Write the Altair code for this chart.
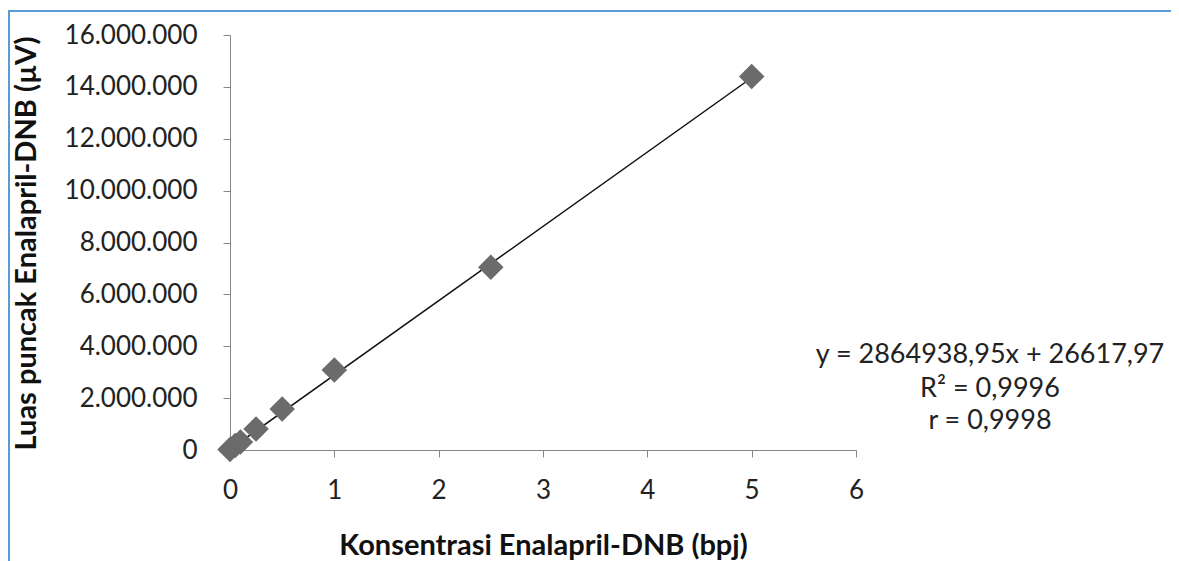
import altair as alt
import pandas as pd

# Data
konsentrasi = [0.0, 0.05, 0.1, 0.25, 0.5, 1.0, 2.5, 5.0]
luas = [20000, 170000, 310000, 810000, 1580000, 3080000, 7050000, 14400000]

trend_x = [0.0, 5.0]
trend_y = [26617.97, 14351312.72]

eq_lines = ["y = 2864938,95x + 26617,97", "R² = 0,9996", "r = 0,9998"]

y_ticks = [0, 2000000, 4000000, 6000000, 8000000, 10000000, 12000000, 14000000, 16000000]
x_ticks = [0, 1, 2, 3, 4, 5, 6]

pts = pd.DataFrame({"x": konsentrasi, "y": luas})
trend = pd.DataFrame({"x": trend_x, "y": trend_y})

FONT = "Lato"
GRAY = "#868686"

x_scale = alt.Scale(domain=[0, 6], nice=False, zero=False)
y_scale = alt.Scale(domain=[0, 16000000], nice=False)

x_axis = alt.Axis(
    values=x_ticks, format="d", title="Konsentrasi Enalapril-DNB (bpj)", grid=False,
    labelFlush=False, labelOverlap=False,
    domainColor=GRAY, tickColor=GRAY, tickSize=7, labelPadding=20,
    labelFont=FONT, labelFontSize=26, labelColor="#222222",
    titleFont=FONT, titleFontSize=29, titleFontWeight="bold", titleColor="#111111",
    titleX=313, titleY=95, titleAnchor="middle", titleBaseline="middle",
)
y_axis = alt.Axis(
    values=y_ticks, title="Luas puncak Enalapril-DNB (µV)", grid=False,
    labelFlush=False, labelOverlap=False,
    labelExpr="replace(format(datum.value, ',d'), /,/g, '.')",
    domainColor=GRAY, tickColor=GRAY, tickSize=7, labelPadding=26,
    labelFont=FONT, labelFontSize=26, labelColor="#222222",
    titleFont=FONT, titleFontSize=29, titleFontWeight="bold", titleColor="#111111",
    titleX=-204, titleY=208, titleAngle=-90, titleAnchor="middle", titleBaseline="middle",
)

points = alt.Chart(pts).mark_point(
    shape="diamond", filled=True, size=650, color="#6b6b6b", opacity=1
).encode(
    x=alt.X("x:Q", scale=x_scale, axis=x_axis),
    y=alt.Y("y:Q", scale=y_scale, axis=y_axis),
)

line = alt.Chart(trend).mark_line(color="#111111", strokeWidth=1.5).encode(
    x=alt.X("x:Q", scale=x_scale, axis=x_axis),
    y=alt.Y("y:Q", scale=y_scale, axis=y_axis),
)

ann_layers = []
for txt, ypix in zip(eq_lines, [320, 354, 386]):
    ann_layers.append(
        alt.Chart(pd.DataFrame({"t": [txt]})).mark_text(
            font=FONT, fontSize=27, color="#222222", align="center", baseline="middle"
        ).encode(text="t:N", x=alt.value(760), y=alt.value(ypix))
    )

border_top = alt.Chart(pd.DataFrame({"a": [0]})).mark_rule(color="#5b9bd5", strokeWidth=2).encode(
    x=alt.value(-222), x2=alt.value(960), y=alt.value(-24)
)
border_left = alt.Chart(pd.DataFrame({"a": [0]})).mark_rule(color="#5b9bd5", strokeWidth=2).encode(
    x=alt.value(-221), y=alt.value(-24), y2=alt.value(540)
)

chart = alt.layer(border_top, border_left, line, points, *ann_layers).properties(
    width=626, height=415,
    autosize=alt.AutoSizeParams(type="none"),
    padding={"left": 222, "top": 27, "right": 315, "bottom": 111},
).configure(background="white").configure_view(stroke=None)

chart.save("out.html", embed_options={"renderer": "svg", "actions": False})
